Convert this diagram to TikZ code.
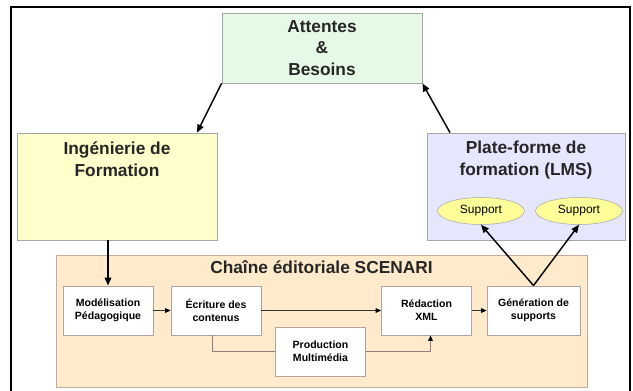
\documentclass[tikz,border=0pt]{standalone}
\usepackage{fontspec}
\setmainfont{Liberation Sans}
\usetikzlibrary{arrows.meta, shapes.geometric}

\definecolor{attfill}{HTML}{E6F9E6}
\definecolor{ingfill}{HTML}{FFFFCC}
\definecolor{lmsfill}{HTML}{E6E6FF}
\definecolor{supfill}{HTML}{FFFF99}
\definecolor{chainfill}{HTML}{FFEBCC}
\definecolor{boxgray}{HTML}{A6A6A6}
\definecolor{chainline}{HTML}{C4ABA0}
\definecolor{stepline}{HTML}{B0A29C}

\begin{document}
\begin{tikzpicture}[x=0.75pt, y=-0.75pt,
                        every node/.style={inner sep=0pt, align=center},
                        big arrow/.style={-{Triangle[length=6pt, width=5pt]}, line width=1.1pt},
                        small arrow/.style={-{Triangle[length=4pt, width=3.5pt, color=black]}, line width=0.5pt, draw=black!80}
                    ]

    % Define styles for the boxes
    \tikzset{
        bigbox/.style n args={3}{
            draw=boxgray, fill=#1, line width=0.6pt,
            minimum width=#2*0.75pt, minimum height=#3*0.75pt
        }
    }
    \tikzset{
        stepbox/.style={
            draw=stepline, fill=white, line width=0.7pt,
            minimum width=90*0.75pt, minimum height=49*0.75pt,
            font=\fontsize{7.9}{9.7}\selectfont\bfseries
        }
    }
    \tikzset{
        title/.style={font=\fontsize{13}{16.2}\selectfont\bfseries, text=black!85}
    }

    \useasboundingbox (0,0) rectangle (633,390);

    % Outer frame
    \draw[line width=2.2pt] (11,395) -- (11,7) -- (630,7) -- (630,395);

    % Top box
    \node[bigbox={attfill}{200}{70}, title] (att) at (322,48) {Attentes\\\&\\Besoins};

    % Middle row of boxes
    \node[bigbox={ingfill}{200}{107}] (ing) at (117,186.5) {};
    \node[title] (ingt) at (117,159) {Ingénierie de\\Formation};

    \node[bigbox={lmsfill}{198}{107}] (lms) at (526,186.5) {};
    \node[title] (lmst) at (526,160) {Plate-forme de\\formation (LMS)};

    \node[ellipse, draw=boxgray, fill=supfill, minimum width=87*0.75pt, minimum height=27*0.75pt,
          font=\fontsize{9}{10}\selectfont] (sup1) at (481,211) {Support};
    \node[ellipse, draw=boxgray, fill=supfill, minimum width=87*0.75pt, minimum height=27*0.75pt,
          font=\fontsize{9}{10}\selectfont] (sup2) at (579,211) {Support};

    % Bottom box with the steps
    \node[bigbox={chainfill}{531}{132}, draw=chainline] (chain) at (321.5,321) {};
    \node[title] (chaint) at (321.5,267) {Chaîne éditoriale SCENARI};

    \node[stepbox] (mod) at (108,310.5) {Modélisation\\Pédagogique};
    \node[stepbox] (ecr) at (216,310.5) {Écriture des\\contenus};
    \node[stepbox] (prod) at (320.5,351.5) {Production\\Multimédia};
    \node[stepbox] (red) at (426.5,310.5) {Rédaction\\XML};
    \node[stepbox, minimum width=93*0.75pt] (gen) at (533.5,310.5) {Génération de\\supports};

    % Edges between boxes
    \draw[big arrow] (att.south west) -- ([xshift=60pt]ing.north);
    \draw[big arrow] ([xshift=-57pt]lms.north) -- (att.south east);
    \draw[big arrow] (mod.north |- ing.south) -- (mod.north);
    \draw[big arrow] (gen.north) -- (sup1.south);
    \draw[big arrow] (gen.north) -- (sup2.south);

    \draw[small arrow] (mod) -- (ecr);
    \draw[small arrow] (ecr) -- (red);
    \draw[small arrow] (red) -- (gen);
    \draw[line width=0.5pt, draw=stepline!80!black] ([xshift=-3pt]ecr.south) |- (prod.west);
    \draw[small arrow, draw=stepline!80!black] (prod.east) -| ([xshift=3pt]red.south);

\end{tikzpicture}
\end{document}
